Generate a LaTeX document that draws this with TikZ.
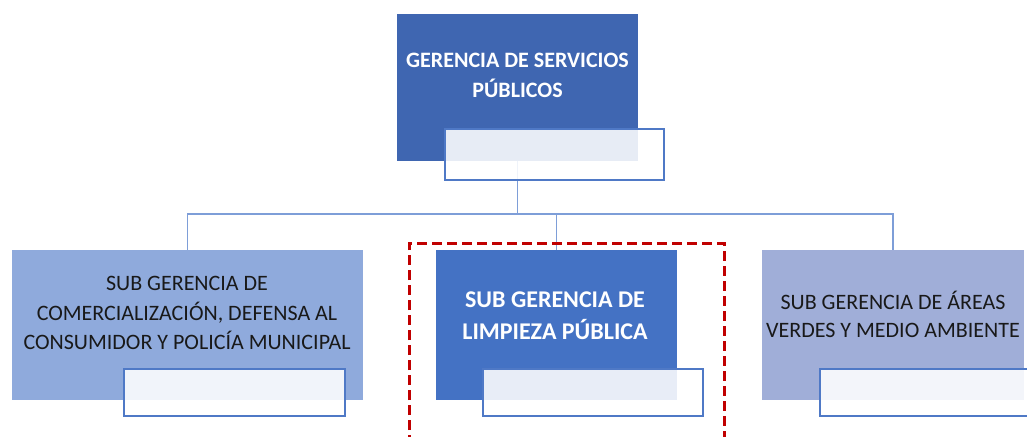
\documentclass[tikz,border=0pt]{standalone}
\usepackage{fontspec}
\setmainfont{Carlito}
\usepackage{xcolor}
\definecolor{topblue}{HTML}{3F66B1}
\definecolor{leftblue}{HTML}{8FAADC}
\definecolor{midblue}{HTML}{4472C4}
\definecolor{rightblue}{HTML}{A0AED8}
\definecolor{subline}{HTML}{4F79C6}
\definecolor{connblue}{HTML}{7E9ED8}
\definecolor{focusred}{HTML}{C00000}

\begin{document}
\begin{tikzpicture}[x=1pt, y=-1pt,
        unitbox/.style={rectangle, inner sep=0pt, minimum height=150pt},
        namebox/.style={rectangle, draw=subline, line width=1.3pt, fill=white, fill opacity=0.88,
                inner sep=0pt, minimum width=220pt, minimum height=47pt},
        conn/.style={draw=connblue, line width=1.6pt},
        headtxt/.style={text=white, align=center, font=\bfseries\fontsize{22}{30}\selectfont},
        subtxt/.style={text=black!90, align=center, font=\fontsize{22}{29.5}\selectfont}]
        \useasboundingbox (0, 0) rectangle (1027, 436);

        % boxes
        \node[unitbox, fill=topblue, minimum width=241pt, minimum height=147pt] at (517.5, 87.5) (gsp) {};
        \node[unitbox, fill=leftblue, minimum width=351pt] at (187.5, 325) (sgc) {};
        \node[unitbox, fill=midblue, minimum width=241pt] at (556.5, 325) (slp) {};
        \node[unitbox, fill=rightblue, minimum width=262pt] at (893, 325) (sga) {};

        \node[headtxt] at (517.5, 75) (gsptxt) {GERENCIA DE SERVICIOS\\PÚBLICOS};
        \node[subtxt] at (187, 313) (sgctxt) {SUB GERENCIA DE\\COMERCIALIZACIÓN, DEFENSA AL\\CONSUMIDOR Y POLICÍA MUNICIPAL};
        \node[headtxt, font=\bfseries\fontsize{24}{32}\selectfont] at (555, 316) (slptxt) {SUB GERENCIA DE\\LIMPIEZA PÚBLICA};
        \node[subtxt, font=\fontsize{22}{28}\selectfont] at (893, 314) (sgatxt) {SUB GERENCIA DE ÁREAS\\VERDES Y MEDIO AMBIENTE};

        % connectors
        \coordinate (bus) at (0, 214);
        \draw[conn] (gsp.south) -- (gsp.south |- bus);
        \draw[conn] (sgc.north) |- (sga.north |- bus) -- (sga.north);
        \draw[conn] (slp.north) -- (slp.north |- bus);

        % name fields
        \node[namebox, minimum width=219pt, minimum height=51pt] at (554.5, 154.5) (gspname) {};
        \node[namebox, minimum width=221pt] at (234.5, 392.5) (sgcname) {};
        \node[namebox] at (593, 392.5) (slpname) {};
        \node[namebox] at (930, 392.5) (sganame) {};

        % highlight
        \draw[focusred, line width=3pt, dash pattern=on 10pt off 5pt]
                (409, 445) -- (409, 243) -- (724, 243) -- (724, 445);
\end{tikzpicture}
\end{document}
